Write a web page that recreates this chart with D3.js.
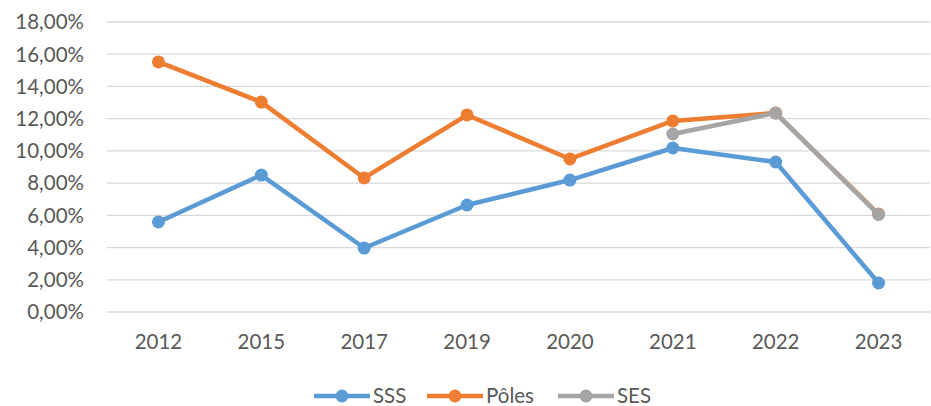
<!DOCTYPE html>
<html>
<head>
<meta charset="utf-8">
<script src="https://cdn.jsdelivr.net/npm/d3@7"></script>
<style>
  body { margin: 0; background: #fff; }
  text { font-family: Lato, "Open Sans", sans-serif; fill: #595959; }
</style>
</head>
<body>
<script>
var years = ["2012", "2015", "2017", "2019", "2020", "2021", "2022", "2023"];
var sss = [5.59, 8.5, 3.97, 6.64, 8.19, 10.18, 9.31, 1.8];
var poles = [15.52, 13.03, 8.32, 12.23, 9.5, 11.86, 12.35, 6.08];
var ses = [null, null, null, null, null, 11.05, 12.35, 6.05];
var yTicks = [0, 2, 4, 6, 8, 10, 12, 14, 16, 18];

var series = [
  { name: "SSS", values: sss, color: "#5B9BD5" },
  { name: "Pôles", values: poles, color: "#ED7D31" },
  { name: "SES", values: ses, color: "#A5A5A5" }
];

var width = 931, height = 406;
var margin = { top: 22, right: 1, bottom: 94, left: 107 };
var fontSize = "20.5px";

var svg = d3.select("body").append("svg")
  .attr("width", width)
  .attr("height", height);

var x = d3.scaleBand()
  .domain(years)
  .range([margin.left, width - margin.right]);

var y = d3.scaleLinear()
  .domain([0, 18])
  .range([height - margin.bottom, margin.top]);

var fmt = function(d) { return d.toFixed(2).replace(".", ",") + "%"; };

// grid
svg.append("g").selectAll("line")
  .data(yTicks)
  .enter().append("line")
  .attr("x1", margin.left)
  .attr("x2", width - margin.right)
  .attr("y1", function(d) { return y(d); })
  .attr("y2", function(d) { return y(d); })
  .attr("stroke", "#D9D9D9")
  .attr("stroke-width", 1.3);

svg.append("g").selectAll("text")
  .data(yTicks)
  .enter().append("text")
  .attr("x", 84)
  .attr("y", function(d) { return y(d); })
  .attr("dy", "0.36em")
  .attr("text-anchor", "end")
  .style("font-size", fontSize)
  .text(fmt);

svg.append("g").selectAll("text")
  .data(years)
  .enter().append("text")
  .attr("x", function(d) { return x(d) + x.bandwidth() / 2; })
  .attr("y", 342)
  .attr("dy", "0.36em")
  .attr("text-anchor", "middle")
  .style("font-size", fontSize)
  .text(function(d) { return d; });

var line = d3.line()
  .defined(function(d) { return d != null; })
  .x(function(d, i) { return x(years[i]) + x.bandwidth() / 2; })
  .y(function(d) { return y(d); });

series.forEach(function(s) {
  var g = svg.append("g");
  g.append("path")
    .attr("d", line(s.values))
    .attr("fill", "none")
    .attr("stroke", s.color)
    .attr("stroke-width", 4.5)
    .attr("stroke-linejoin", "round");
  g.selectAll("circle")
    .data(s.values.map(function(v, i) { return { v: v, i: i }; }).filter(function(d) { return d.v != null; }))
    .enter().append("circle")
    .attr("cx", function(d) { return x(years[d.i]) + x.bandwidth() / 2; })
    .attr("cy", function(d) { return y(d.v); })
    .attr("r", 6.5)
    .attr("fill", s.color);
});

// legend
var legendX = [314, 427, 558];
var legend = svg.append("g");
series.forEach(function(s, i) {
  var lg = legend.append("g").attr("transform", "translate(" + legendX[i] + ",396)");
  lg.append("line")
    .attr("x1", 0).attr("x2", 56)
    .attr("stroke", s.color)
    .attr("stroke-width", 4.5);
  lg.append("circle").attr("cx", 28).attr("r", 6.5).attr("fill", s.color);
  lg.append("text")
    .attr("x", 59)
    .attr("dy", "0.36em")
    .style("font-size", fontSize)
    .text(s.name);
});
</script>
</body>
</html>
